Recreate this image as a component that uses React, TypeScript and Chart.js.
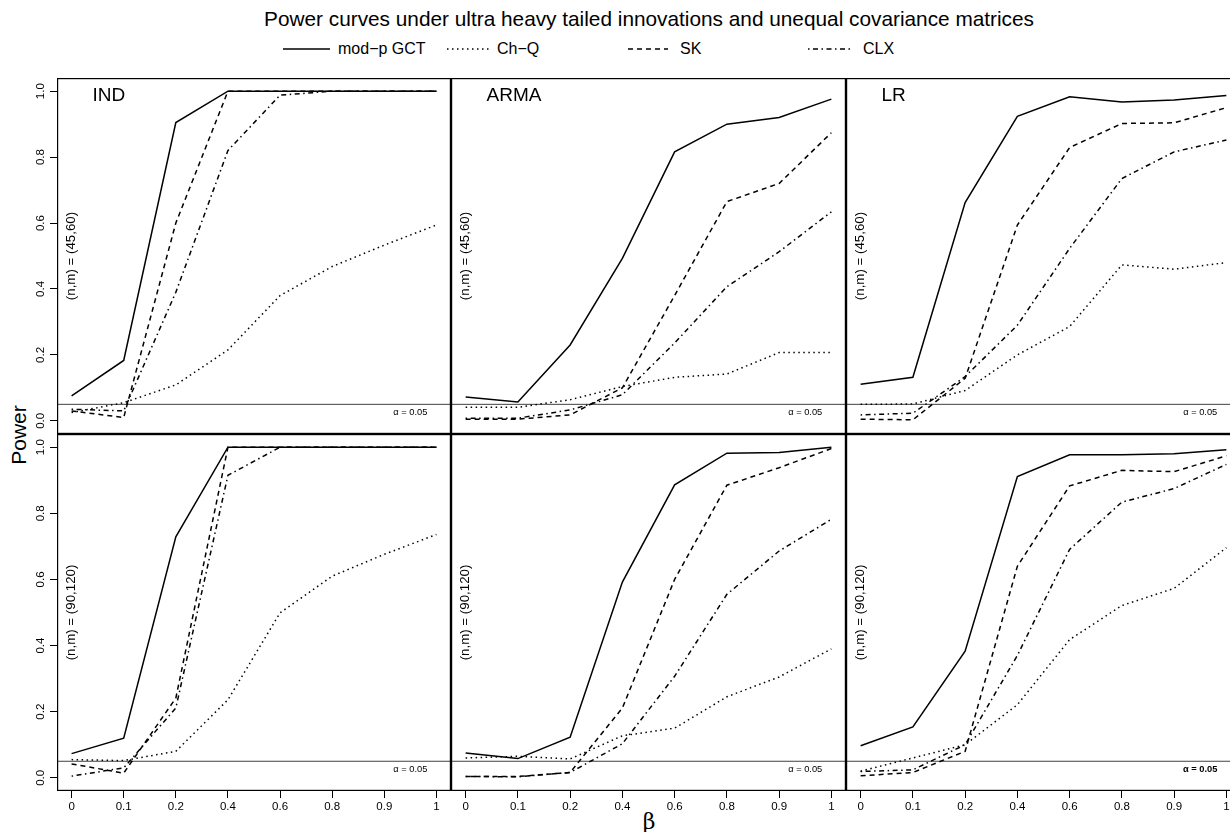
import React, { useEffect, useRef } from 'react';
import { Chart, registerables } from 'chart.js';

Chart.register(...registerables);

// ---------------- data ----------------
const betaLabels = ['0', '0.1', '0.2', '0.4', '0.6', '0.8', '0.9', '1'];
const yTickValues = [0, 0.2, 0.4, 0.6, 0.8, 1.0];
const seriesNames = ['mod\u2212p GCT', 'Ch\u2212Q', 'SK', 'CLX'];
const panelTitles = ['IND', 'ARMA', 'LR'];
const sizeLabels = ['(n,m) = (45,60)', '(n,m) = (90,120)'];
const alphaLevel = 0.05;
const chartTitle = 'Power curves under ultra heavy tailed innovations and unequal covariance matrices';

// (n,m) = (45,60)
const ind45_GCT = [0.076, 0.183, 0.905, 1.0, 1.0, 1.0, 1.0, 1.0];
const ind45_ChQ = [0.025, 0.055, 0.109, 0.215, 0.38, 0.468, 0.533, 0.594];
const ind45_SK = [0.03, 0.01, 0.6, 1.0, 1.0, 1.0, 1.0, 1.0];
const ind45_CLX = [0.035, 0.03, 0.39, 0.82, 0.988, 1.0, 1.0, 1.0];

const arma45_GCT = [0.072, 0.057, 0.23, 0.493, 0.816, 0.9, 0.92, 0.976];
const arma45_ChQ = [0.041, 0.041, 0.064, 0.104, 0.132, 0.142, 0.207, 0.207];
const arma45_SK = [0.005, 0.005, 0.018, 0.1, 0.38, 0.665, 0.72, 0.874];
const arma45_CLX = [0.008, 0.008, 0.033, 0.079, 0.236, 0.407, 0.513, 0.634];

const lr45_GCT = [0.111, 0.132, 0.662, 0.924, 0.983, 0.967, 0.973, 0.987];
const lr45_ChQ = [0.05, 0.051, 0.092, 0.2, 0.286, 0.473, 0.46, 0.48];
const lr45_SK = [0.005, 0.003, 0.129, 0.594, 0.829, 0.902, 0.904, 0.95];
const lr45_CLX = [0.018, 0.023, 0.134, 0.29, 0.523, 0.735, 0.816, 0.852];

// (n,m) = (90,120)
const ind90_GCT = [0.073, 0.12, 0.729, 1.0, 1.0, 1.0, 1.0, 1.0];
const ind90_ChQ = [0.055, 0.052, 0.08, 0.236, 0.499, 0.61, 0.676, 0.736];
const ind90_SK = [0.042, 0.014, 0.241, 1.0, 1.0, 1.0, 1.0, 1.0];
const ind90_CLX = [0.005, 0.03, 0.211, 0.915, 1.0, 1.0, 1.0, 1.0];

const arma90_GCT = [0.075, 0.058, 0.123, 0.592, 0.886, 0.982, 0.984, 1.0];
const arma90_ChQ = [0.06, 0.065, 0.057, 0.127, 0.15, 0.245, 0.305, 0.39];
const arma90_SK = [0.004, 0.004, 0.016, 0.211, 0.6, 0.885, 0.938, 0.996];
const arma90_CLX = [0.004, 0.003, 0.016, 0.103, 0.307, 0.555, 0.686, 0.782];

const lr90_GCT = [0.097, 0.154, 0.383, 0.911, 0.977, 0.977, 0.98, 0.992];
const lr90_ChQ = [0.02, 0.06, 0.1, 0.221, 0.418, 0.521, 0.573, 0.696];
const lr90_SK = [0.006, 0.016, 0.08, 0.64, 0.883, 0.93, 0.926, 0.974];
const lr90_CLX = [0.019, 0.024, 0.1, 0.37, 0.691, 0.834, 0.875, 0.948];

// ---------------- styles / layout ----------------
const FONT = "'Liberation Sans', Arial, Helvetica, sans-serif";
const DASHES: number[][] = [[], [1.5, 3.5], [5, 4], [1.5, 3.5, 5, 3.5]];
const LINE_W = 1.5;
const FRAME_LEFT = [57, 451, 846];
const FRAME_W = [394, 395, 395];
const ROW_TOP = [78, 434];
const ROW_H = [356, 357];
const Y_AXIS_W = 57;
const X_AXIS_H = 41;
const X_MIN = -0.28;
const X_MAX = 7.28;
const Y_MIN = -0.04;
const Y_MAX = 1.04;
const TITLE_Y = 19;
const LEGEND_Y = 49;

type PanelProps = { row: number; col: number; series: number[][] };

function Panel({ row, col, series }: PanelProps) {
  const ref = useRef<HTMLCanvasElement>(null);
  const isLeft = col === 0;
  const isBottom = row === 1;
  const canvasLeft = isLeft ? 0 : FRAME_LEFT[col];
  const canvasW = FRAME_W[col] + (isLeft ? Y_AXIS_W : 0);
  const canvasH = ROW_H[row] + (isBottom ? X_AXIS_H : 0);

  useEffect(() => {
    const canvas = ref.current;
    if (!canvas) return;
    const datasets: any[] = series.map((vals, k) => ({
      label: seriesNames[k],
      data: vals.map((v, i) => ({ x: i, y: v })),
      borderColor: '#000',
      borderWidth: LINE_W,
      borderDash: DASHES[k],
      pointRadius: 0,
      fill: false,
      tension: 0,
    }));
    datasets.push({
      label: 'alpha',
      data: [
        { x: X_MIN, y: alphaLevel },
        { x: X_MAX, y: alphaLevel },
      ],
      borderColor: '#404040',
      borderWidth: 1,
      pointRadius: 0,
      fill: false,
    });

    const annotate = {
      id: 'annotate',
      afterDraw(chart: any) {
        const { ctx, chartArea: a } = chart;
        const xs = chart.scales.x;
        const ys = chart.scales.y;
        ctx.save();
        ctx.strokeStyle = '#000';
        ctx.lineWidth = 1.2;
        ctx.setLineDash([]);
        ctx.strokeRect(a.left + 0.6, a.top + 0.6, a.right - a.left - 1.2, a.bottom - a.top - 1.2);
        ctx.fillStyle = '#000';
        if (row === 0) {
          ctx.font = `19px ${FONT}`;
          ctx.textAlign = 'left';
          ctx.textBaseline = 'middle';
          ctx.fillText(panelTitles[col], xs.getPixelForValue(0.4), ys.getPixelForValue(0.987));
        }
        ctx.save();
        ctx.translate(xs.getPixelForValue(0), ys.getPixelForValue(0.5));
        ctx.rotate(-Math.PI / 2);
        ctx.font = `13.3px ${FONT}`;
        ctx.textAlign = 'center';
        ctx.textBaseline = 'middle';
        ctx.fillText(sizeLabels[row], 0, 0);
        ctx.restore();
        const bold = row === 1 && col === 2;
        ctx.font = `${bold ? 'bold ' : ''}9.3px ${FONT}`;
        ctx.textAlign = 'center';
        ctx.textBaseline = 'middle';
        ctx.fillText('\u03b1 = 0.05', xs.getPixelForValue(6.5), ys.getPixelForValue(0.025));
        ctx.restore();
      },
    };

    const chart = new Chart(canvas, {
      type: 'line',
      data: { datasets },
      options: {
        responsive: false,
        animation: false,
        layout: { padding: 0 },
        plugins: {
          legend: { display: false },
          tooltip: { enabled: false },
          title: { display: false },
        },
        elements: { point: { radius: 0 }, line: { tension: 0 } },
        scales: {
          x: {
            type: 'linear',
            min: X_MIN,
            max: X_MAX,
            display: isBottom,
            afterBuildTicks: (s: any) => {
              s.ticks = betaLabels.map((_, i) => ({ value: i }));
            },
            afterFit: (s: any) => {
              if (isBottom) s.height = X_AXIS_H;
              s.paddingLeft = 0;
              s.paddingRight = 0;
              s.paddingTop = 0;
              s.paddingBottom = 0;
            },
            ticks: {
              callback: (v: any) => betaLabels[Math.round(Number(v))],
              font: { family: FONT, size: 11.5 },
              color: '#000',
              padding: 2,
              minRotation: 0,
              maxRotation: 0,
              autoSkip: false,
            },
            grid: {
              display: true,
              drawOnChartArea: false,
              drawTicks: true,
              tickLength: 7,
              color: '#000',
              lineWidth: 1,
            },
            border: { display: false },
          },
          y: {
            type: 'linear',
            min: Y_MIN,
            max: Y_MAX,
            display: isLeft,
            afterBuildTicks: (s: any) => {
              s.ticks = yTickValues.map((v) => ({ value: v }));
            },
            afterFit: (s: any) => {
              if (isLeft) s.width = Y_AXIS_W;
              s.paddingLeft = 0;
              s.paddingRight = 0;
              s.paddingTop = 0;
              s.paddingBottom = 0;
            },
            ticks: {
              callback: (v: any) => Number(v).toFixed(1),
              font: { family: FONT, size: 11.5 },
              color: '#000',
              padding: 1,
              minRotation: 90,
              maxRotation: 90,
              crossAlign: 'center',
              autoSkip: false,
            },
            grid: {
              display: true,
              drawOnChartArea: false,
              drawTicks: true,
              tickLength: 7,
              color: '#000',
              lineWidth: 1,
            },
            border: { display: false },
          },
        },
      } as any,
      plugins: [annotate],
    });
    return () => chart.destroy();
  }, []);

  return (
    <canvas
      ref={ref}
      width={canvasW}
      height={canvasH}
      style={{ position: 'absolute', left: canvasLeft, top: ROW_TOP[row], width: canvasW, height: canvasH }}
    />
  );
}

const legendItems = [
  { lineX: [283, 330], textX: 338 },
  { lineX: [447, 490], textX: 497 },
  { lineX: [628, 668], textX: 680 },
  { lineX: [808, 850], textX: 863 },
];

export default function App() {
  useEffect(() => {
    document.body.style.margin = '0';
  }, []);
  const panels: PanelProps[] = [
    { row: 0, col: 0, series: [ind45_GCT, ind45_ChQ, ind45_SK, ind45_CLX] },
    { row: 0, col: 1, series: [arma45_GCT, arma45_ChQ, arma45_SK, arma45_CLX] },
    { row: 0, col: 2, series: [lr45_GCT, lr45_ChQ, lr45_SK, lr45_CLX] },
    { row: 1, col: 0, series: [ind90_GCT, ind90_ChQ, ind90_SK, ind90_CLX] },
    { row: 1, col: 1, series: [arma90_GCT, arma90_ChQ, arma90_SK, arma90_CLX] },
    { row: 1, col: 2, series: [lr90_GCT, lr90_ChQ, lr90_SK, lr90_CLX] },
  ];
  const centerText: React.CSSProperties = {
    position: 'absolute',
    whiteSpace: 'nowrap',
    lineHeight: 1,
    color: '#000',
    fontFamily: FONT,
  };
  return (
    <div
      style={{
        position: 'absolute',
        left: 0,
        top: 0,
        width: 1230,
        height: 832,
        overflow: 'hidden',
        background: '#fff',
      }}
    >
      <div style={{ ...centerText, left: 649, top: TITLE_Y, fontSize: 20.8, transform: 'translate(-50%, -50%)' }}>
        {chartTitle}
      </div>
      <svg
        width={1230}
        height={24}
        style={{ position: 'absolute', left: 0, top: LEGEND_Y - 12 }}
      >
        {legendItems.map((it, k) => (
          <line
            key={k}
            x1={it.lineX[0]}
            x2={it.lineX[1]}
            y1={12}
            y2={12}
            stroke="#000"
            strokeWidth={LINE_W}
            strokeDasharray={DASHES[k].length ? DASHES[k].join(' ') : undefined}
          />
        ))}
      </svg>
      {legendItems.map((it, k) => (
        <div key={k} style={{ ...centerText, left: it.textX, top: LEGEND_Y, fontSize: 16, transform: 'translate(0, -50%)' }}>
          {seriesNames[k]}
        </div>
      ))}
      <div
        style={{
          ...centerText,
          left: 18,
          top: 434.5,
          fontSize: 21,
          transform: 'translate(-50%, -50%) rotate(-90deg)',
        }}
      >
        Power
      </div>
      <div
        style={{
          ...centerText,
          left: 649,
          top: 822,
          fontSize: 22,
          fontFamily: "'DejaVu Serif', 'Liberation Serif', serif",
          transform: 'translate(-50%, -50%)',
        }}
      >
        {'\u03b2'}
      </div>
      {panels.map((p, i) => (
        <Panel key={i} {...p} />
      ))}
    </div>
  );
}
